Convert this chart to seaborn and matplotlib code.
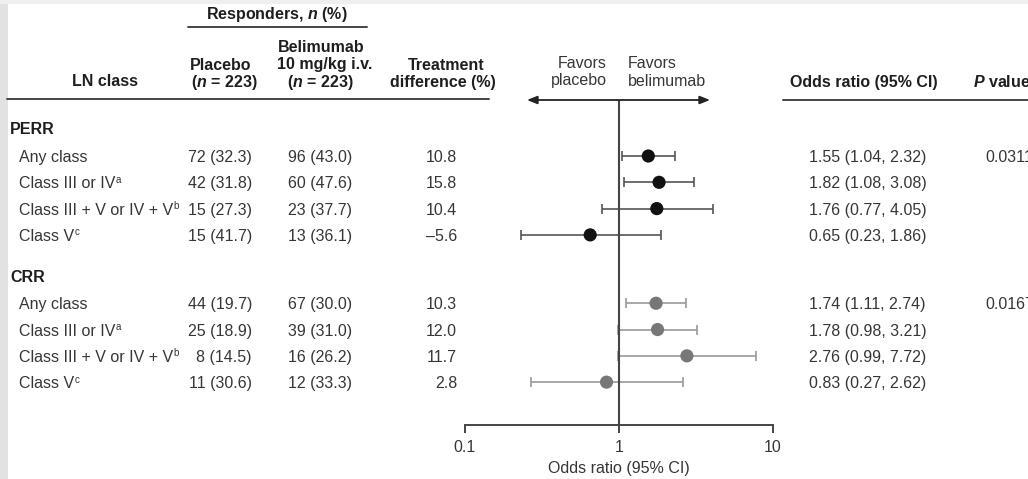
import matplotlib
matplotlib.use("Agg")
import matplotlib.pyplot as plt
import seaborn as sns
import numpy as np
import pandas as pd
from matplotlib.transforms import blended_transform_factory, IdentityTransform
from matplotlib.lines import Line2D
from matplotlib.patches import Rectangle
from matplotlib.ticker import NullLocator

# ---------------- data ----------------
endpoints = ["PERR", "CRR"]
classes = ["Any class", "Class III or IV", "Class III + V or IV + V", "Class V"]
footnotes = ["", "a", "b", "c"]

perr_placebo_n = [72, 42, 15, 15]
perr_placebo_pct = [32.3, 31.8, 27.3, 41.7]
perr_bel_n = [96, 60, 23, 13]
perr_bel_pct = [43.0, 47.6, 37.7, 36.1]
perr_diff = [10.8, 15.8, 10.4, -5.6]
perr_or = [1.55, 1.82, 1.76, 0.65]
perr_lo = [1.04, 1.08, 0.77, 0.23]
perr_hi = [2.32, 3.08, 4.05, 1.86]
perr_p = ["0.0311", "", "", ""]

crr_placebo_n = [44, 25, 8, 11]
crr_placebo_pct = [19.7, 18.9, 14.5, 30.6]
crr_bel_n = [67, 39, 16, 12]
crr_bel_pct = [30.0, 31.0, 26.2, 33.3]
crr_diff = [10.3, 12.0, 11.7, 2.8]
crr_or = [1.74, 1.78, 2.76, 0.83]
crr_lo = [1.11, 0.98, 0.99, 0.27]
crr_hi = [2.74, 3.21, 7.72, 2.62]
crr_p = ["0.0167", "", "", ""]

tick_values = [0.1, 1, 10]
tick_labels = ["0.1", "1", "10"]

# ---------------- table ----------------
GROUP_STEP = 5.6
rows = []
for g, (ep, pn, pp, bn, bp, d, o, lo, hi, pv) in enumerate([
        ("PERR", perr_placebo_n, perr_placebo_pct, perr_bel_n, perr_bel_pct,
         perr_diff, perr_or, perr_lo, perr_hi, perr_p),
        ("CRR", crr_placebo_n, crr_placebo_pct, crr_bel_n, crr_bel_pct,
         crr_diff, crr_or, crr_lo, crr_hi, crr_p)]):
    for i in range(len(classes)):
        rows.append(dict(endpoint=ep, cls=classes[i], fn=footnotes[i],
                         pn=pn[i], pp=pp[i], bn=bn[i], bp=bp[i], diff=d[i],
                         OR=o[i], lo=lo[i], hi=hi[i], p=pv[i],
                         ypos=g * GROUP_STEP + i, g=g))
df = pd.DataFrame(rows)

# ---------------- style ----------------
sns.set_theme(style="white")
plt.rcParams["font.family"] = ["Liberation Sans", "DejaVu Sans"]
plt.rcParams["mathtext.fontset"] = "custom"
plt.rcParams["mathtext.rm"] = "Liberation Sans"
plt.rcParams["mathtext.it"] = "Liberation Sans:italic:bold"
plt.rcParams["mathtext.bf"] = "Liberation Sans:bold"

W, H = 1028, 479
fig = plt.figure(figsize=(W / 100, H / 100), dpi=100)
fig.patch.set_facecolor("white")

def fx(x):
    return x / W

def fy(y):
    return 1 - y / H

FS = 11.5
TXT = "#363636"
HDR = "#1e1e1e"
LINE = "#444444"

# frame strips
fig.add_artist(Rectangle((0, 0), fx(8), 1, transform=fig.transFigure,
                         facecolor="#e2e2e2", edgecolor="none", zorder=0))
fig.add_artist(Rectangle((0, fy(4)), 1, 4 / H, transform=fig.transFigure,
                         facecolor="#efefef", edgecolor="none", zorder=0))

ax = fig.add_axes([fx(465), fy(425), fx(773) - fx(465), (425 - 100) / H])
ax.patch.set_alpha(0)
ax.set_xscale("log")

# error bars
ecol = {"PERR": "#555555", "CRR": "#9a9a9a"}
for ep in endpoints:
    sub = df[df.endpoint == ep]
    ax.errorbar(sub.OR, sub.ypos, xerr=[sub.OR - sub.lo, sub.hi - sub.OR],
                fmt="none", ecolor=ecol[ep], elinewidth=1.2, capsize=3.5,
                capthick=1.2, zorder=2)

ax.axvline(1, color=LINE, lw=1.5, zorder=2.5)

sns.scatterplot(data=df, x="OR", y="ypos", hue="endpoint",
                palette={"PERR": "#111111", "CRR": "#777777"}, s=90,
                linewidth=0, legend=False, ax=ax, zorder=3)

ax.set_xlim(0.1, 10)
ax.set_ylim(10.23, -2.13)
ax.set_xticks(tick_values)
ax.set_xticklabels(tick_labels)
ax.xaxis.set_minor_locator(NullLocator())
ax.set_yticks([])
ax.set_ylabel("")
for s in ["top", "left", "right"]:
    ax.spines[s].set_visible(False)
ax.spines["bottom"].set_color(LINE)
ax.spines["bottom"].set_linewidth(1.4)
ax.tick_params(axis="x", direction="out", length=6, width=1.4, colors=LINE,
               labelsize=FS, labelcolor=TXT, pad=5, bottom=True)
ax.set_xlabel("Odds ratio (95% CI)", fontsize=FS, color=TXT, labelpad=4)

# arrows
ax.annotate("", xy=(10 ** ((527 - 619) / 154), 1.0),
            xytext=(10 ** ((710 - 619) / 154), 1.0),
            xycoords=("data", "axes fraction"),
            textcoords=("data", "axes fraction"),
            arrowprops=dict(arrowstyle="<|-|>,head_length=0.5,head_width=0.2",
                            color="#222222", lw=1.3, shrinkA=0, shrinkB=0),
            annotation_clip=False)

# ---------------- headers ----------------
def htext(x, y, s, ha="center", weight="bold", color=HDR):
    fig.text(fx(x), fy(y), s, ha=ha, va="center", fontsize=FS,
             fontweight=weight, color=color)

htext(277, 14, "Responders, $n$ (%)")
htext(321, 48, "Belimumab")
htext(325, 65, "10 mg/kg i.v.")
htext(320, 82, "($n$ = 223)")
htext(221, 65, "Placebo")
htext(224, 82, "($n$ = 223)")
htext(105, 82, "LN class")
htext(446, 65, "Treatment")
htext(443, 82, "difference (%)")
htext(607, 63, "Favors", ha="right", weight="normal", color=TXT)
htext(607, 81, "placebo", ha="right", weight="normal", color=TXT)
htext(628, 63, "Favors", ha="left", weight="normal", color=TXT)
htext(628, 81, "belimumab", ha="left", weight="normal", color=TXT)
htext(864, 82, "Odds ratio (95% CI)")
htext(973, 82, "$P$ value", ha="left")

def hline(x0, x1, y):
    fig.add_artist(Line2D([fx(x0), fx(x1)], [fy(y), fy(y)],
                          transform=fig.transFigure, color=LINE, lw=1.4))

hline(188, 367, 27)
hline(7, 489, 99)
hline(783, 1028, 100)

# ---------------- rows ----------------
trans = blended_transform_factory(fig.transFigure, ax.transData)

def rtext(x, y, s, ha="left", weight="normal", color=TXT):
    return ax.text(fx(x), y, s, transform=trans, ha=ha, va="center_baseline",
                   fontsize=FS, fontweight=weight, color=color, clip_on=False)

for g, ep in enumerate(endpoints):
    rtext(10, g * GROUP_STEP - 1.05, ep, weight="bold", color=HDR)

def fmt_diff(v):
    s = f"{abs(v):.1f}"
    return ("\u2013" + s) if v < 0 else s

renderer = fig.canvas.get_renderer()
for _, r in df.iterrows():
    y = r.ypos
    t = rtext(19, y, r.cls)
    if r.fn:
        bb = t.get_window_extent(renderer)
        fig.text(bb.x1 + 0.5, bb.y1 + 1.5, r.fn, transform=IdentityTransform(),
                 ha="left", va="top", fontsize=7, color=TXT)
    rtext(252, y, f"{r.pn} ({r.pp:.1f})", ha="right")
    rtext(352, y, f"{r.bn} ({r.bp:.1f})", ha="right")
    rtext(457, y, fmt_diff(r["diff"]), ha="right")
    rtext(809, y, f"{r.OR:.2f} ({r.lo:.2f}, {r.hi:.2f})")
    if r.p:
        rtext(985, y, r.p)

fig.savefig("out.png", dpi=100)
